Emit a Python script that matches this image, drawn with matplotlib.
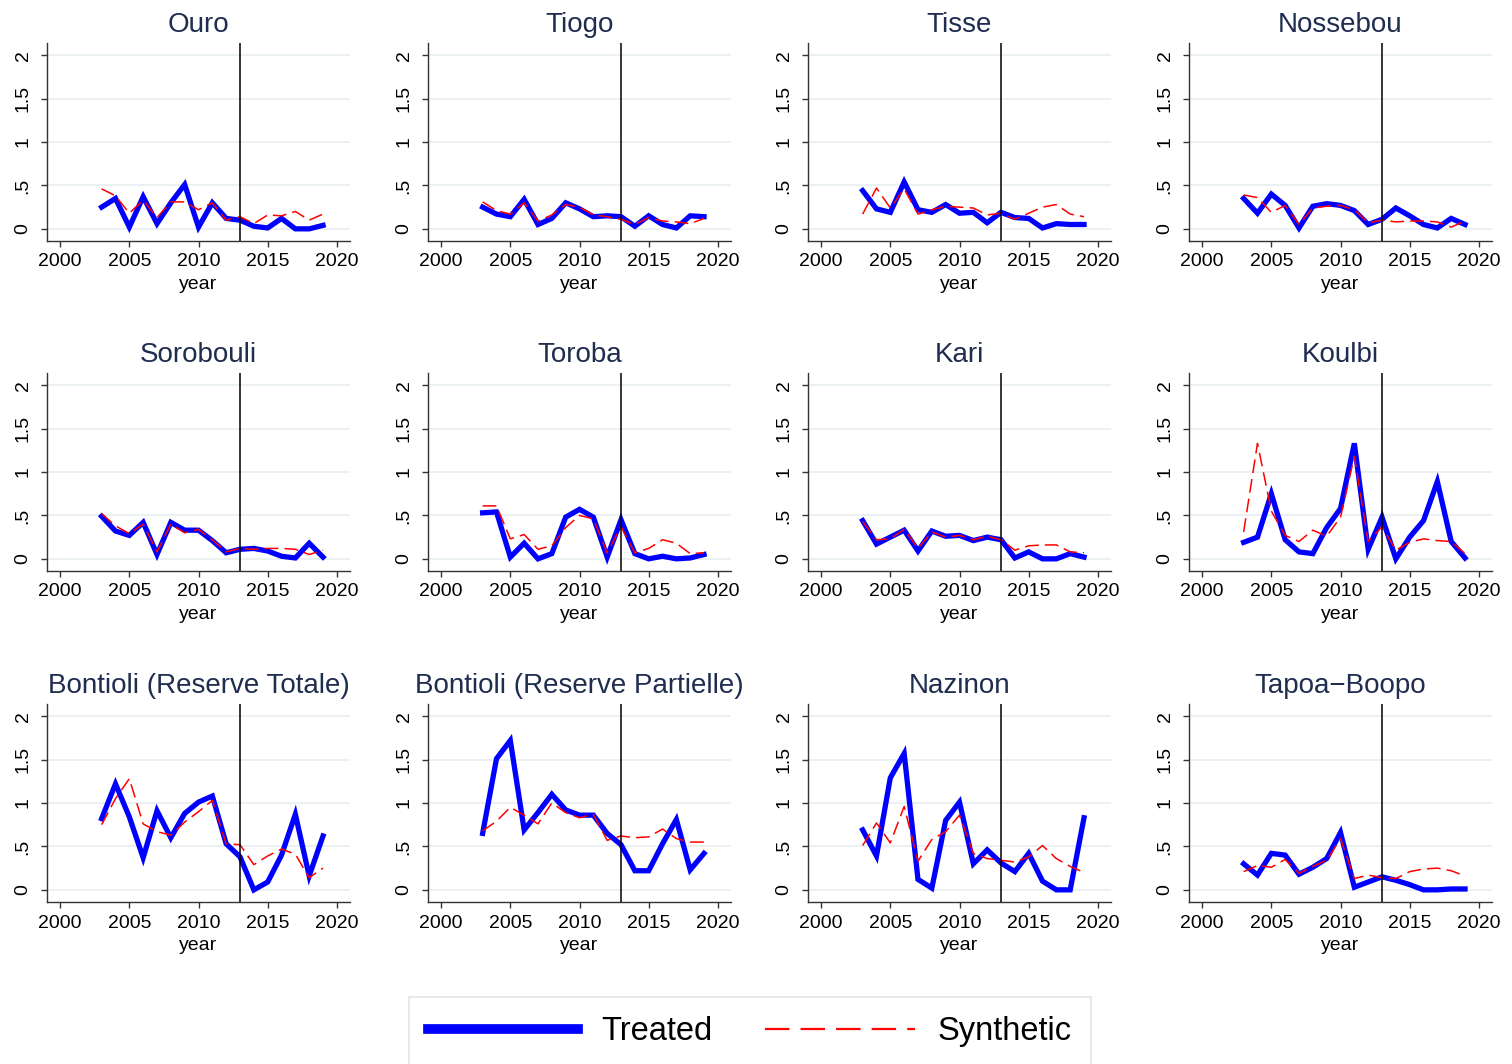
import matplotlib
matplotlib.use('Agg')
import matplotlib.pyplot as plt
from matplotlib.lines import Line2D

plt.rcParams['font.family'] = ['Liberation Sans', 'DejaVu Sans']

# ---- data: treated vs synthetic, 2003-2019 ----
years = list(range(2003, 2020))
treat_year = 2013

sites = ['Ouro', 'Tiogo', 'Tisse', 'Nossebou',
         'Sorobouli', 'Toroba', 'Kari', 'Koulbi',
         'Bontioli (Reserve Totale)', 'Bontioli (Reserve Partielle)', 'Nazinon', 'Tapoa\u2212Boopo']

ouro_t = [0.25, 0.35, 0.02, 0.37, 0.06, 0.30, 0.51, 0.02, 0.30, 0.12, 0.10, 0.03, 0.01, 0.12, 0.00, 0.00, 0.04]
ouro_s = [0.46, 0.38, 0.18, 0.33, 0.13, 0.31, 0.31, 0.22, 0.30, 0.10, 0.14, 0.06, 0.16, 0.15, 0.20, 0.10, 0.17]

tiogo_t = [0.25, 0.17, 0.14, 0.34, 0.05, 0.12, 0.30, 0.23, 0.14, 0.15, 0.14, 0.03, 0.15, 0.05, 0.01, 0.15, 0.14]
tiogo_s = [0.31, 0.21, 0.17, 0.30, 0.09, 0.16, 0.28, 0.25, 0.16, 0.14, 0.11, 0.05, 0.13, 0.09, 0.08, 0.06, 0.12]

tisse_t = [0.44, 0.23, 0.19, 0.54, 0.22, 0.19, 0.28, 0.18, 0.19, 0.07, 0.19, 0.13, 0.12, 0.01, 0.06, 0.05, 0.05]
tisse_s = [0.17, 0.47, 0.24, 0.46, 0.17, 0.22, 0.26, 0.25, 0.24, 0.16, 0.18, 0.11, 0.18, 0.25, 0.28, 0.17, 0.14]

nossebou_t = [0.35, 0.18, 0.40, 0.27, 0.01, 0.26, 0.29, 0.27, 0.21, 0.05, 0.11, 0.24, 0.15, 0.05, 0.01, 0.12, 0.05]
nossebou_s = [0.39, 0.36, 0.19, 0.27, 0.05, 0.24, 0.26, 0.27, 0.22, 0.07, 0.10, 0.08, 0.09, 0.09, 0.08, 0.02, 0.09]

sorobouli_t = [0.49, 0.32, 0.27, 0.42, 0.05, 0.42, 0.33, 0.33, 0.21, 0.07, 0.11, 0.12, 0.09, 0.03, 0.01, 0.18, 0.02]
sorobouli_s = [0.52, 0.38, 0.29, 0.40, 0.08, 0.40, 0.30, 0.34, 0.22, 0.08, 0.12, 0.11, 0.12, 0.12, 0.11, 0.05, 0.10]

toroba_t = [0.53, 0.54, 0.02, 0.18, 0.00, 0.06, 0.48, 0.57, 0.48, 0.02, 0.45, 0.06, 0.00, 0.03, 0.00, 0.01, 0.05]
toroba_s = [0.61, 0.61, 0.23, 0.28, 0.11, 0.15, 0.36, 0.50, 0.46, 0.07, 0.37, 0.07, 0.12, 0.22, 0.18, 0.06, 0.07]

kari_t = [0.44, 0.17, 0.25, 0.33, 0.09, 0.32, 0.26, 0.27, 0.21, 0.25, 0.22, 0.01, 0.08, 0.00, 0.00, 0.06, 0.02]
kari_s = [0.43, 0.22, 0.23, 0.34, 0.12, 0.31, 0.25, 0.27, 0.22, 0.26, 0.22, 0.10, 0.15, 0.16, 0.16, 0.08, 0.07]

koulbi_t = [0.19, 0.25, 0.75, 0.22, 0.08, 0.06, 0.36, 0.58, 1.33, 0.11, 0.48, 0.00, 0.25, 0.44, 0.89, 0.20, 0.01]
koulbi_s = [0.31, 1.33, 0.55, 0.27, 0.20, 0.33, 0.26, 0.48, 1.18, 0.20, 0.37, 0.10, 0.19, 0.23, 0.21, 0.20, 0.06]

bont_rt_t = [0.82, 1.22, 0.84, 0.37, 0.91, 0.60, 0.88, 1.01, 1.08, 0.53, 0.38, 0.00, 0.09, 0.40, 0.87, 0.16, 0.62]
bont_rt_s = [0.75, 1.05, 1.28, 0.76, 0.67, 0.63, 0.78, 0.90, 1.03, 0.53, 0.52, 0.29, 0.39, 0.47, 0.41, 0.14, 0.25]

bont_rp_t = [0.65, 1.51, 1.72, 0.69, 0.89, 1.10, 0.92, 0.86, 0.86, 0.65, 0.52, 0.22, 0.22, 0.53, 0.81, 0.23, 0.42]
bont_rp_s = [0.68, 0.79, 0.95, 0.86, 0.76, 1.00, 0.89, 0.83, 0.87, 0.57, 0.62, 0.60, 0.61, 0.70, 0.59, 0.55, 0.55]

nazinon_t = [0.69, 0.39, 1.29, 1.57, 0.12, 0.02, 0.80, 1.01, 0.30, 0.46, 0.31, 0.21, 0.42, 0.10, 0.00, 0.00, 0.83]
nazinon_s = [0.51, 0.77, 0.54, 0.96, 0.33, 0.58, 0.67, 0.86, 0.42, 0.36, 0.34, 0.32, 0.38, 0.51, 0.36, 0.27, 0.20]

tapoa_t = [0.30, 0.17, 0.42, 0.40, 0.18, 0.26, 0.36, 0.66, 0.03, 0.09, 0.15, 0.11, 0.06, 0.00, 0.00, 0.01, 0.01]
tapoa_s = [0.21, 0.28, 0.26, 0.35, 0.19, 0.27, 0.34, 0.59, 0.13, 0.17, 0.14, 0.13, 0.21, 0.24, 0.25, 0.22, 0.16]

treated = [ouro_t, tiogo_t, tisse_t, nossebou_t, sorobouli_t, toroba_t, kari_t, koulbi_t,
           bont_rt_t, bont_rp_t, nazinon_t, tapoa_t]
synthetic = [ouro_s, tiogo_s, tisse_s, nossebou_s, sorobouli_s, toroba_s, kari_s, koulbi_s,
             bont_rt_s, bont_rp_s, nazinon_s, tapoa_s]

xticks = [2000, 2005, 2010, 2015, 2020]
yticks = [0, 0.5, 1, 1.5, 2]
ytick_labels = ['0', '.5', '1', '1.5', '2']

# ---- layout (pixel boxes) ----
W, H = 1512, 1064
col_left = [47, 428, 808, 1189]
row_top = [43, 373, 704]
ax_w, ax_h = 303, 198

BLUE = '#0000ff'
RED = '#ff0000'
TITLE_COLOR = '#1f2d4f'
GRID_COLOR = '#e7eef1'

fig = plt.figure(figsize=(W / 100, H / 100), dpi=100)

for i, name in enumerate(sites):
    r, c = divmod(i, 4)
    left = col_left[c] / W
    bottom = 1 - (row_top[r] + ax_h) / H
    ax = fig.add_axes([left, bottom, ax_w / W, ax_h / H])

    for yv in yticks:
        ax.axhline(yv, color=GRID_COLOR, lw=1.2, zorder=0)

    ax.plot(years, treated[i], color=BLUE, lw=3.8, solid_joinstyle='miter', zorder=3)
    ax.plot(years, synthetic[i], color=RED, lw=1.1, dashes=(9, 4), zorder=4)
    ax.axvline(treat_year, color='black', lw=1.1, zorder=5)

    ax.set_xlim(1999.05, 2020.95)
    ax.set_ylim(-0.14, 2.14)
    ax.set_xticks(xticks)
    ax.set_yticks(yticks)
    ax.set_yticklabels(ytick_labels, rotation=90, va='center')
    ax.tick_params(axis='both', labelsize=14, length=4, width=1, color='#333333')
    ax.tick_params(axis='y', pad=7)
    ax.tick_params(axis='x', pad=5)

    for side in ['top', 'right']:
        ax.spines[side].set_visible(False)
    for side in ['left', 'bottom']:
        ax.spines[side].set_color('#333333')
        ax.spines[side].set_linewidth(1.0)

    ax.set_xlabel('year', fontsize=14, labelpad=4)
    ax.set_title(name, fontsize=20, color=TITLE_COLOR, pad=8)

# ---- legend ----
handles = [Line2D([0], [0], color=BLUE, lw=7),
           Line2D([0], [0], color=RED, lw=1.6, dashes=(11, 5))]
leg = fig.legend(handles, ['Treated', 'Synthetic'], loc='lower center',
                 bbox_to_anchor=(750 / W, -3 / H), ncol=2, fontsize=23.5,
                 handlelength=4.6, handletextpad=0.7, columnspacing=1.6,
                 borderpad=0.6, borderaxespad=0, fancybox=False, frameon=True)
leg.get_frame().set_edgecolor('#dddddd')
leg.get_frame().set_linewidth(1.2)

fig.savefig('out.png', dpi=100)
